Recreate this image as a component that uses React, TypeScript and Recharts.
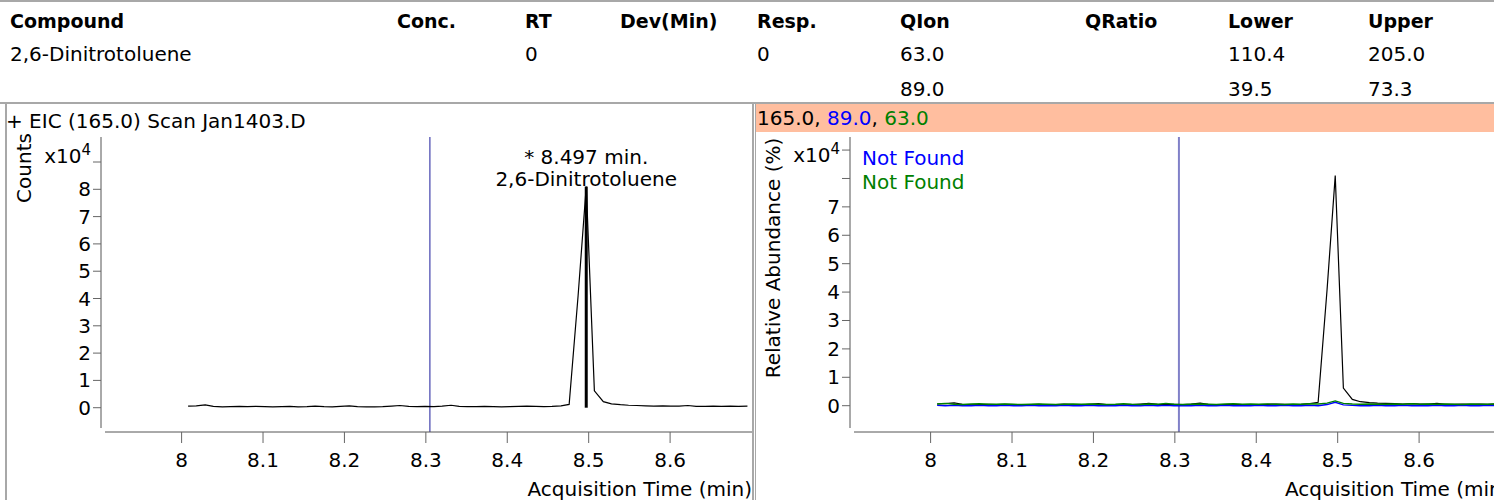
import React from 'react';
import { LineChart, Line, XAxis, YAxis, ReferenceLine, ReferenceDot } from 'recharts';

const FONT = '"DejaVu Sans", Verdana, sans-serif';

// table
const headers = [
  { title: 'Compound', x: 10 },
  { title: 'Conc.', x: 397 },
  { title: 'RT', x: 525 },
  { title: 'Dev(Min)', x: 620 },
  { title: 'Resp.', x: 757 },
  { title: 'QIon', x: 900 },
  { title: 'QRatio', x: 1085 },
  { title: 'Lower', x: 1228 },
  { title: 'Upper', x: 1368 },
];
const row1 = ['2,6-Dinitrotoluene', '', '0', '', '0', '63.0', '', '110.4', '205.0'];
const row2 = ['', '', '', '', '', '89.0', '', '39.5', '73.3'];

// acquisition times (min)
const times = [
  8.008, 8.018, 8.029, 8.039, 8.050, 8.060, 8.071, 8.081, 8.091, 8.102,
  8.112, 8.123, 8.133, 8.143, 8.154, 8.164, 8.175, 8.185, 8.195, 8.206,
  8.216, 8.227, 8.237, 8.247, 8.258, 8.268, 8.279, 8.289, 8.299, 8.310,
  8.320, 8.331, 8.341, 8.351, 8.362, 8.372, 8.383, 8.393, 8.403, 8.414,
  8.424, 8.435, 8.445, 8.455, 8.466, 8.476, 8.487, 8.497, 8.507, 8.518,
  8.528, 8.539, 8.549, 8.559, 8.570, 8.580, 8.591, 8.601, 8.611, 8.622,
  8.632, 8.643, 8.653, 8.663, 8.674, 8.684, 8.695,
];

// counts x10^4
const ion165 = [
  0.06, 0.07, 0.10, 0.05, 0.03, 0.04, 0.05, 0.04, 0.05, 0.04,
  0.03, 0.04, 0.05, 0.03, 0.04, 0.06, 0.04, 0.03, 0.05, 0.07,
  0.04, 0.03, 0.03, 0.04, 0.06, 0.08, 0.05, 0.04, 0.05, 0.04,
  0.06, 0.09, 0.05, 0.04, 0.04, 0.05, 0.04, 0.03, 0.04, 0.05,
  0.06, 0.05, 0.04, 0.05, 0.07, 0.12, 4.1, 8.1, 0.62, 0.22,
  0.14, 0.11, 0.09, 0.08, 0.07, 0.06, 0.07, 0.06, 0.06, 0.08,
  0.05, 0.05, 0.06, 0.05, 0.06, 0.05, 0.06,
];
const ion89 = [
  0.01, 0.0, 0.01, 0.0, 0.0, 0.01, 0.0, 0.0, 0.01, 0.0,
  0.0, 0.01, 0.0, 0.0, 0.0, 0.01, 0.0, 0.0, 0.01, 0.0,
  0.0, 0.0, 0.01, 0.0, 0.0, 0.01, 0.0, 0.01, 0.0, 0.0,
  0.0, 0.01, 0.0, 0.0, 0.01, 0.0, 0.0, 0.0, 0.01, 0.0,
  0.0, 0.01, 0.0, 0.0, 0.01, 0.0, 0.04, 0.12, 0.03, 0.01,
  0.0, 0.0, 0.01, 0.0, 0.0, 0.01, 0.0, 0.0, 0.0, 0.01,
  0.0, 0.0, 0.01, 0.0, 0.0, 0.01, 0.0,
];
const ion63 = [
  0.06, 0.08, 0.05, 0.04, 0.06, 0.07, 0.05, 0.05, 0.06, 0.05,
  0.04, 0.05, 0.06, 0.05, 0.04, 0.05, 0.06, 0.05, 0.06, 0.05,
  0.04, 0.05, 0.07, 0.05, 0.04, 0.06, 0.05, 0.08, 0.05, 0.04,
  0.05, 0.06, 0.05, 0.04, 0.06, 0.07, 0.05, 0.06, 0.05, 0.06,
  0.05, 0.04, 0.06, 0.05, 0.07, 0.06, 0.09, 0.17, 0.08, 0.06,
  0.05, 0.06, 0.05, 0.05, 0.06, 0.05, 0.07, 0.05, 0.06, 0.05,
  0.06, 0.05, 0.04, 0.06, 0.05, 0.05, 0.06,
];

const xTicks = [8, 8.1, 8.2, 8.3, 8.4, 8.5, 8.6];
const yTicks = [0, 1, 2, 3, 4, 5, 6, 7, 8, 9];
const rtMarker = 8.305;
const peakTime = 8.497;
const peakHeight = 8.1;

const data = times.map((t, i) => ({ t, i165: ion165[i], i89: ion89[i], i63: ion63[i] }));

const makeYTick = (lastLabel: number, expDy: number) => (props: any) => {
  const { x, y, payload } = props;
  const v = payload.value;
  if (v === 9) {
    return (
      <text x={x} y={y + expDy} textAnchor="end" fill="#000" fontSize={20} fontFamily={FONT}>
        <tspan>x10</tspan>
        <tspan dy={-8} fontSize={15}>4</tspan>
      </text>
    );
  }
  if (v > lastLabel) return <g />;
  return (
    <text x={x} y={y} textAnchor="end" dominantBaseline="central" fill="#000" fontSize={20} fontFamily={FONT}>
      {v}
    </text>
  );
};

const abs = (s: React.CSSProperties): React.CSSProperties => ({ position: 'absolute', ...s });

const Rotated = ({ text, cx, cy }: { text: string; cx: number; cy: number }) => (
  <div style={abs({ left: cx, top: cy, transform: 'translate(-50%, -50%) rotate(-90deg)', whiteSpace: 'nowrap', fontSize: 20, lineHeight: '22px' })}>
    {text}
  </div>
);

const Chrom = ({ right, yDomain, lastLabel, expDy, vColor, vWidth }: any) => (
  <LineChart
    width={right ? 760 : 755}
    height={397}
    data={data}
    margin={{ top: 34, right: right ? 14 : 3, left: right ? 35 : 41, bottom: 8 }}
  >
    <XAxis
      type="number"
      dataKey="t"
      domain={[7.901, 8.7006]}
      allowDataOverflow
      ticks={xTicks}
      height={60}
      tickSize={11}
      tickMargin={10}
      axisLine={{ stroke: '#555', strokeDasharray: '0 4 2000' }}
      tickLine={{ stroke: '#666' }}
      tick={{ fill: '#000', fontSize: 20, fontFamily: FONT }}
    />
    <YAxis
      type="number"
      domain={yDomain}
      allowDataOverflow
      ticks={yTicks}
      width={60}
      tickSize={8}
      tickMargin={2}
      axisLine={{ stroke: '#555', strokeDasharray: '291 20' }}
      tickLine={{ stroke: '#666' }}
      tick={makeYTick(lastLabel, expDy)}
    />
    <ReferenceLine x={rtMarker} stroke={vColor} strokeWidth={vWidth} />
    <Line type="linear" dataKey="i165" stroke="#000" strokeWidth={1.2} dot={false} isAnimationActive={false} />
    {right && <Line type="linear" dataKey="i89" stroke="#0000ff" strokeWidth={1.4} dot={false} isAnimationActive={false} />}
    {right && <Line type="linear" dataKey="i63" stroke="#008000" strokeWidth={1.4} dot={false} isAnimationActive={false} />}
    {!right && (
      <ReferenceLine
        segment={[{ x: peakTime, y: 0 }, { x: peakTime, y: peakHeight }]}
        stroke="#000"
        strokeWidth={3}
      />
    )}
    {!right && (
      <ReferenceDot
        x={peakTime}
        y={peakHeight}
        r={0}
        shape={(p: any) => (
          <g fontFamily={FONT} fontSize={20} fill="#000">
            <text x={p.cx} y={p.cy - 30} textAnchor="middle" dominantBaseline="central">* 8.497 min.</text>
            <text x={p.cx} y={p.cy - 8} textAnchor="middle" dominantBaseline="central">2,6-Dinitrotoluene</text>
          </g>
        )}
      />
    )}
  </LineChart>
);

export default function App() {
  const cell = (text: string, x: number, top: number, bold = false) => (
    <div key={`${x}-${top}`} style={abs({ left: x, top, fontSize: bold ? 19 : 20, lineHeight: '24px', fontWeight: bold ? 'bold' : 'normal', whiteSpace: 'nowrap' })}>
      {text}
    </div>
  );

  return (
    <div style={{ position: 'absolute', left: 0, top: 0, width: 1494, height: 500, overflow: 'hidden', background: '#fff', fontFamily: FONT, color: '#000' }}>
      {/* table */}
      <div style={abs({ left: 0, top: 0, width: 1494, height: 2, background: '#a8a8a8' })} />
      {headers.map(h => cell(h.title, h.x, 9, true))}
      {row1.map((v, i) => (v ? cell(v, headers[i].x, 42) : null))}
      {row2.map((v, i) => (v ? cell(v, headers[i].x, 77) : null))}
      <div style={abs({ left: 0, top: 102, width: 1494, height: 2, background: '#a8a8a8' })} />

      {/* left panel */}
      <div style={abs({ left: 5, top: 103, width: 2, height: 397, background: '#a8a8a8' })} />
      <div style={abs({ left: 752, top: 103, width: 2, height: 397, background: '#a8a8a8' })} />
      <div style={abs({ left: 6, top: 109, fontSize: 20, lineHeight: '24px', whiteSpace: 'nowrap' })}>+ EIC (165.0) Scan Jan1403.D</div>
      <div style={abs({ left: 0, top: 103 })}>
        <Chrom right={false} yDomain={[-0.89, 9.916]} lastLabel={8} expDy={1} vColor="#1c1c9c" vWidth={1} />
      </div>
      <Rotated text="Counts" cx={24} cy={168} />
      <div style={abs({ left: 752, top: 477, transform: 'translateX(-100%)', fontSize: 20, lineHeight: '24px', whiteSpace: 'nowrap' })}>Acquisition Time (min)</div>

      {/* right panel */}
      <div style={abs({ left: 755, top: 104, width: 739, height: 28, background: '#ffbe9f' })} />
      <div style={abs({ left: 755, top: 103, width: 1, height: 397, background: '#a8a8a8' })} />
      <div style={abs({ left: 757, top: 106, fontSize: 20, lineHeight: '24px', whiteSpace: 'nowrap' })}>
        <span>165.0</span>, <span style={{ color: '#0000ff' }}>89.0</span>, <span style={{ color: '#008000' }}>63.0</span>
      </div>
      <div style={abs({ left: 755, top: 103 })}>
        <Chrom right yDomain={[-0.926, 9.46]} lastLabel={7} expDy={12} vColor="#8080c8" vWidth={2} />
      </div>
      <Rotated text="Relative Abundance (%)" cx={773} cy={258} />
      <div style={abs({ left: 862, top: 146, fontSize: 20, lineHeight: '24px', color: '#0000ff', whiteSpace: 'nowrap' })}>Not Found</div>
      <div style={abs({ left: 862, top: 170, fontSize: 20, lineHeight: '24px', color: '#008000', whiteSpace: 'nowrap' })}>Not Found</div>
      <div style={abs({ left: 1285, top: 477, fontSize: 20, lineHeight: '24px', whiteSpace: 'nowrap' })}>Acquisition Time (min)</div>
    </div>
  );
}
